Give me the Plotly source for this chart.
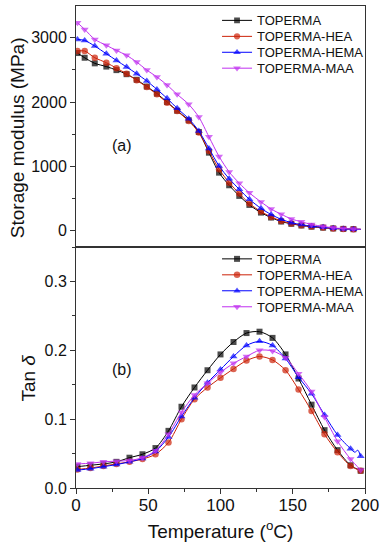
import plotly.graph_objects as go
from plotly.subplots import make_subplots

names = ["TOPERMA", "TOPERMA-HEA", "TOPERMA-HEMA", "TOPERMA-MAA"]
colors = ["#000000", "#cc2208", "#0000ff", "#c030f0"]
symbols = ["square", "circle", "triangle-up", "triangle-down"]

# (a) storage modulus
temp_a = [1, 6, 13, 21, 28, 35, 42, 49, 56, 63, 70, 78, 85, 92, 99, 106, 113, 120,
          128, 135, 142, 149, 156, 163, 171, 178, 185, 192, 197]
mod_toperma = [2760, 2687, 2600, 2550, 2495, 2432, 2345, 2240, 2130, 2000, 1865, 1716,
               1535, 1214, 904, 708, 543, 403, 284, 207, 145, 110, 83, 65, 50, 38, 31, 26, 24]
mod_hea = [2791, 2791, 2687, 2610, 2525, 2439, 2336, 2233, 2119, 1990, 1860, 1705,
           1525, 1240, 956, 749, 579, 424, 300, 217, 155, 114, 88, 67, 52, 36, 31, 26, 24]
mod_hema = [2972, 2956, 2868, 2749, 2646, 2543, 2439, 2326, 2196, 2057, 1902, 1740,
            1550, 1280, 1008, 810, 645, 490, 350, 255, 180, 128, 98, 72, 57, 41, 31, 26, 24]
mod_maa = [3230, 3127, 2972, 2879, 2801, 2724, 2620, 2496, 2388, 2264, 2119, 1964,
           1767, 1460, 1155, 915, 740, 590, 450, 340, 258, 186, 140, 100, 70, 48, 36, 28, 26]

# (b) tan delta
temp_b = [1, 10, 19, 28, 37, 46, 55, 64, 73, 82, 91, 100, 109, 118, 127, 136, 145,
          154, 163, 172, 181, 190, 197]
tan_toperma = [0.031, 0.033, 0.035, 0.038, 0.044, 0.049, 0.058, 0.083, 0.118, 0.146,
               0.171, 0.194, 0.212, 0.225, 0.227, 0.218, 0.194, 0.159, 0.121, 0.084,
               0.055, 0.033, 0.025]
tan_hea = [0.027, 0.029, 0.032, 0.035, 0.038, 0.042, 0.049, 0.066, 0.100, 0.129, 0.146,
           0.160, 0.173, 0.185, 0.191, 0.186, 0.171, 0.143, 0.112, 0.078, 0.052, 0.032,
           0.025]
temp_b_hema = [1, 10, 19, 28, 37, 46, 55, 64, 73, 82, 91, 100, 109, 118, 127, 136, 145,
               154, 163, 172, 181, 190, 193, 195, 197]
tan_hema = [0.026, 0.028, 0.031, 0.034, 0.038, 0.043, 0.053, 0.074, 0.104, 0.131, 0.153,
            0.172, 0.191, 0.207, 0.213, 0.207, 0.188, 0.161, 0.137, 0.106, 0.077, 0.057,
            0.052, 0.055, 0.046]
tan_maa = [0.035, 0.036, 0.038, 0.039, 0.040, 0.044, 0.054, 0.078, 0.110, 0.135, 0.152,
           0.168, 0.181, 0.191, 0.200, 0.199, 0.189, 0.166, 0.140, 0.103, 0.068, 0.042,
           0.026]

FONT = "Liberation Sans, Arial, sans-serif"
fig = make_subplots(rows=2, cols=1, shared_xaxes=True, vertical_spacing=0)

sizes = [6, 6.5, 7, 7]
legend_ids_a = ["legend", "legend2", "legend3", "legend4"]
legend_ids_b = ["legend5", "legend6", "legend7", "legend8"]

series_a = [mod_toperma, mod_hea, mod_hema, mod_maa]
for i in range(4):
    msize = [sizes[i]] * (len(temp_a) - 1) + [0]
    fig.add_trace(go.Scatter(
        x=temp_a, y=series_a[i], name=names[i], mode="lines+markers",
        line=dict(color=colors[i], width=1, shape="spline", smoothing=0.8),
        marker=dict(symbol=symbols[i], size=msize, color=colors[i], line=dict(width=0)),
        legend=legend_ids_a[i]), row=1, col=1)

series_b = [(temp_b, tan_toperma), (temp_b, tan_hea), (temp_b_hema, tan_hema), (temp_b, tan_maa)]
for i in range(4):
    xs, ys = series_b[i]
    msize = [sizes[i] if x in temp_b else 0 for x in xs]
    fig.add_trace(go.Scatter(
        x=xs, y=ys, name=names[i], mode="lines+markers",
        line=dict(color=colors[i], width=1, shape="spline", smoothing=0.8),
        marker=dict(symbol=symbols[i], size=msize, color=colors[i], line=dict(width=0)),
        legend=legend_ids_b[i]), row=2, col=1)

axcol = "#333333"
common = dict(showline=True, mirror=True, linecolor=axcol, linewidth=1,
              showgrid=False, zeroline=False)
fig.update_xaxes(range=[0, 200], **common)
fig.update_xaxes(ticks="", showticklabels=False, row=1, col=1)
fig.update_xaxes(ticks="outside", ticklen=5, tickcolor=axcol, tickvals=[0, 50, 100, 150, 200],
                 minor=dict(ticks="outside", ticklen=3, dtick=25, tickcolor=axcol),
                 tickfont=dict(size=17, color="#111"), ticklabelstandoff=-3,
                 title=dict(text="Temperature (<sup>o</sup>C)", font=dict(size=19, color="#111"),
                            standoff=10),
                 row=2, col=1)
fig.update_yaxes(range=[-250, 3490], tickvals=[0, 1000, 2000, 3000], ticks="outside",
                 ticklen=5, tickcolor=axcol,
                 minor=dict(ticks="outside", ticklen=3, dtick=500, tick0=0, tickcolor=axcol),
                 tickfont=dict(size=16, color="#111"),
                 **common, row=1, col=1)
fig.update_yaxes(range=[0, 0.35], tickvals=[0.0, 0.1, 0.2, 0.3], tickformat=".1f",
                 ticks="outside", ticklen=5, tickcolor=axcol,
                 minor=dict(ticks="outside", ticklen=3, dtick=0.05, tick0=0, tickcolor=axcol),
                 tickfont=dict(size=16, color="#111"),
                 **common, row=2, col=1)

leg = dict(xanchor="left", yanchor="top", bgcolor="rgba(0,0,0,0)",
           font=dict(family=FONT, size=13, color="#111"), itemwidth=30)
leg_x = 0.488
leg_y_a = [1.0012, 0.968, 0.935, 0.902]
leg_y_b = [0.5064, 0.4733, 0.4402, 0.4070]
legend_layout = {}
for lid, yy in zip(legend_ids_a + legend_ids_b, leg_y_a + leg_y_b):
    legend_layout[lid] = dict(x=leg_x, y=yy, **leg)

fig.update_layout(
    width=384, height=550,
    margin=dict(l=76, r=17, t=5, b=62),
    paper_bgcolor="white", plot_bgcolor="white",
    font=dict(family=FONT, color="#111"),
    showlegend=True,
    annotations=[
        dict(text="(a)", x=0.158, y=0.710, xref="paper", yref="paper", showarrow=False,
             xanchor="center", yanchor="middle", font=dict(size=16, color="#111")),
        dict(text="(b)", x=0.158, y=0.2464, xref="paper", yref="paper", showarrow=False,
             xanchor="center", yanchor="middle", font=dict(size=16, color="#111")),
        dict(text="Storage modulus (MPa)", x=-0.2027, y=0.7267, xref="paper", yref="paper",
             showarrow=False, textangle=-90, xanchor="center", yanchor="middle",
             font=dict(size=19, color="#111")),
        dict(text="Tan <i>δ</i>", x=-0.165, y=0.2277, xref="paper", yref="paper",
             showarrow=False, textangle=-90, xanchor="center", yanchor="middle",
             font=dict(size=19, color="#111")),
    ],
    **legend_layout,
)

fig.write_html("out.html", config={"displayModeBar": False},
               post_script="document.body.style.margin='0';")
